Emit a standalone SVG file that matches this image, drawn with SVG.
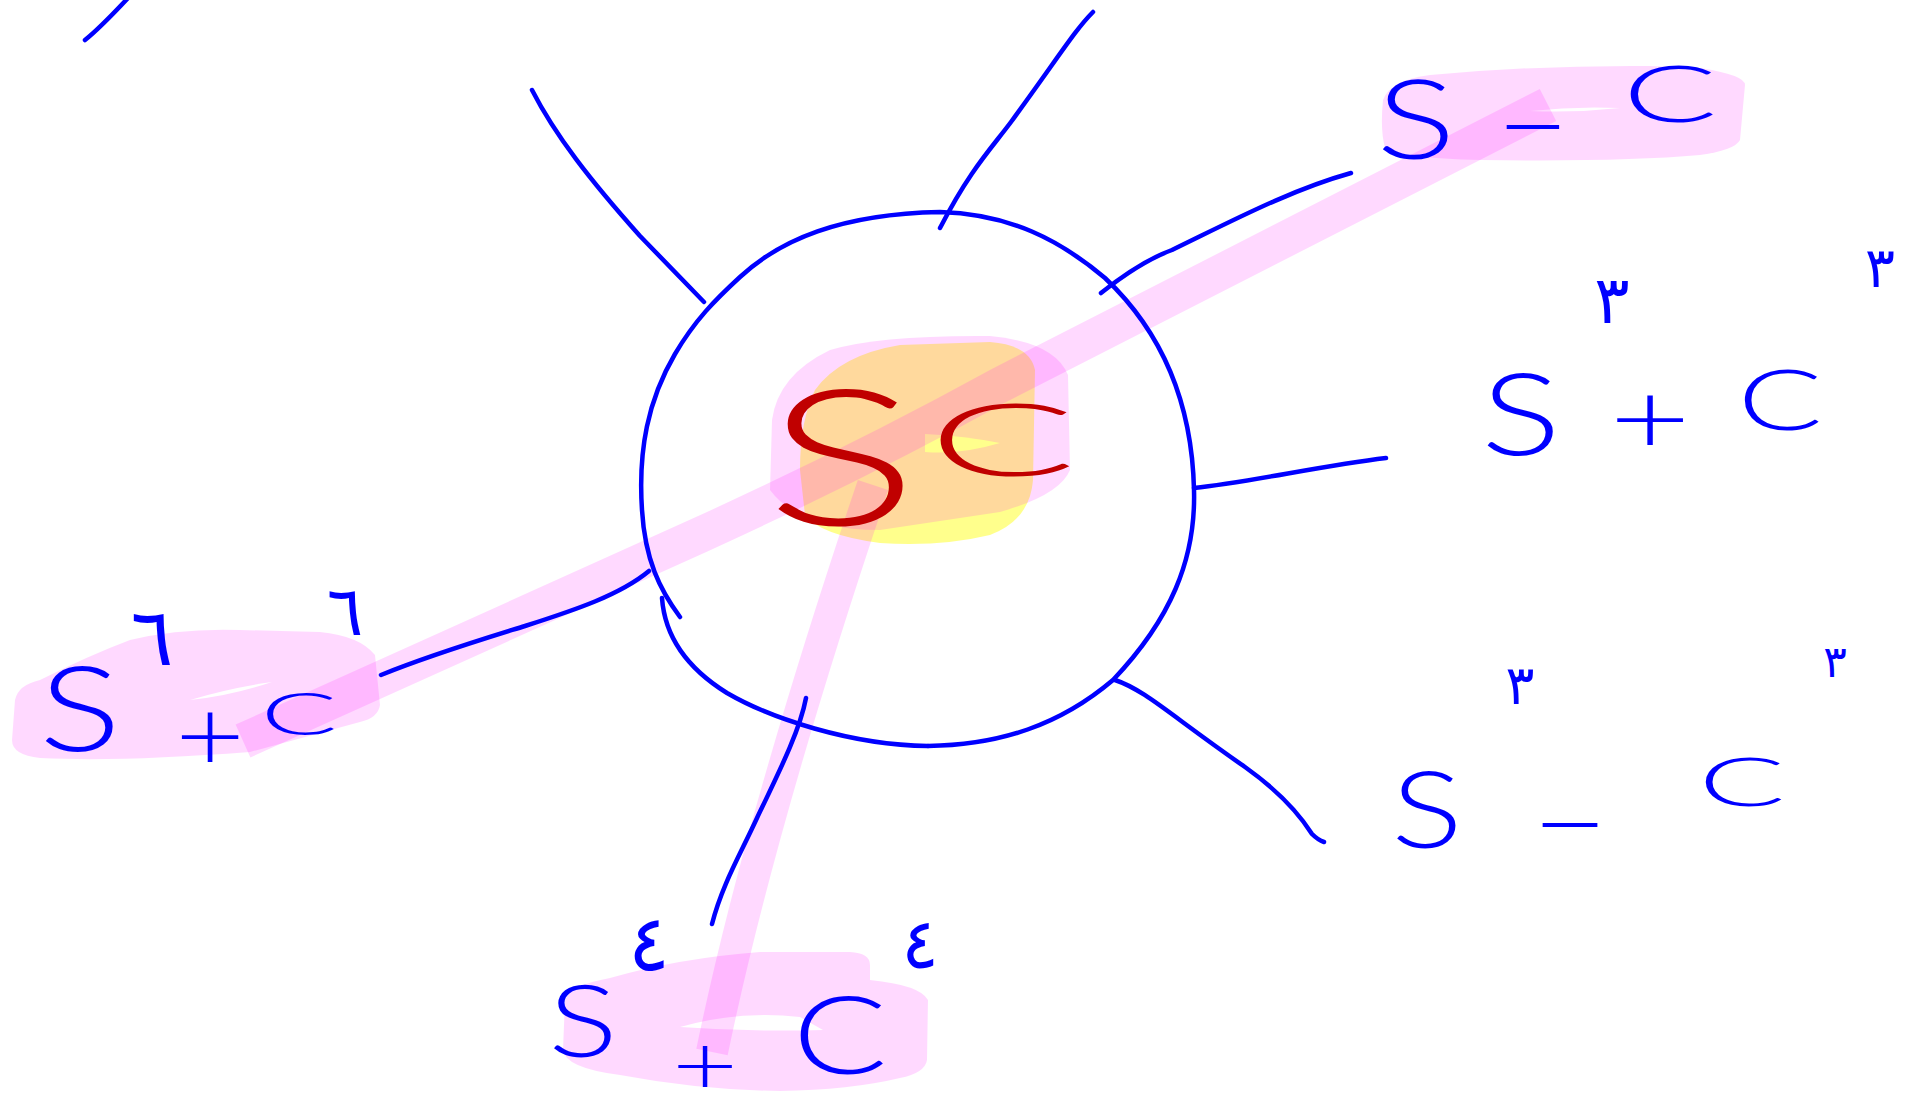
<svg xmlns="http://www.w3.org/2000/svg" width="1914" height="1097" viewBox="0 0 1914 1097">
<style>
.ink{fill:none;stroke:#0000ff;stroke-width:4.5;stroke-linecap:round;stroke-linejoin:round}
.hl{fill:#ff00ff;fill-opacity:0.15}
.band{fill:none;stroke:#ff00ff;stroke-opacity:0.15;stroke-linecap:butt;stroke-linejoin:round}
.yl{fill:#ffff00;fill-opacity:0.45}
.gap{fill:#ffffff}
.t{font-family:Lato,"Liberation Sans",sans-serif;font-weight:300;fill:#0000ff;text-anchor:middle}
.sup{font-family:"DejaVu Sans","Noto Sans",sans-serif;fill:#0000ff;text-anchor:middle}
.red{fill:#c00000}
</style>
<rect width="1914" height="1097" fill="#ffffff"/>
<g id="highlights">
<path class="hl" d="M1383,100 Q1390,80 1430,75 Q1540,65 1650,66 L1700,68 Q1745,75 1745,85 L1740,140 Q1735,150 1700,155 Q1620,162 1480,160 Q1400,158 1385,148 Q1380,130 1383,100 Z"/>
<path class="gap" d="M1530,111 Q1575,106 1620,108 Q1575,113 1530,111 Z"/>
<path class="hl" d="M15,700 Q18,685 40,680 Q90,655 130,640 Q180,628 240,630 L320,632 Q360,636 375,655 L380,705 Q378,718 360,722 L250,752 Q120,762 40,758 Q12,755 12,740 Z"/>
<path class="gap" d="M190,700 Q230,688 272,682 Q230,696 190,700 Z"/>
<path class="hl" d="M565,1000 Q570,985 610,978 Q680,958 760,952 L850,952 Q870,953 870,965 L870,980 Q920,985 928,1000 L927,1060 Q925,1073 900,1078 Q850,1090 780,1091 Q700,1090 620,1075 Q565,1068 563,1050 Z"/>
<path class="gap" d="M680,1027 Q740,1010 800,1017 L823,1030 Q750,1032 680,1027 Z"/>
<path class="yl" d="M800,470 Q800,420 815,390 Q840,355 900,345 L990,342 Q1030,345 1035,370 L1033,480 Q1030,520 990,535 Q940,547 880,543 Q820,535 805,515 Z"/>
<path class="hl" d="M770,490 L772,420 Q778,375 830,350 Q880,335 990,336 Q1055,342 1068,375 L1070,470 Q1060,495 1000,512 L880,530 Q800,530 770,490 Z"/>
<path d="M925,434 Q965,436 1000,443 Q960,455 925,452 Z" fill="#ffff8c"/>
<path class="band" stroke-width="36" d="M243,741 L700,535 Q860,462 1000,385 L1548,105"/>
<path class="band" stroke-width="32" d="M873,485 Q760,820 712,1052"/>
</g>
<g id="connectors">
<path class="ink" d="M85,40 Q100,28 128,-2"/>
<path class="ink" d="M532,90 C555,135 590,180 640,236 L704,302"/>
<path class="ink" d="M1093,12 C1075,30 1060,55 1011,122 C990,150 970,170 940,228"/>
<path class="ink" d="M1101,293 C1130,270 1150,258 1172,250 C1230,222 1290,190 1351,173"/>
<path class="ink" d="M1194,488 C1250,482 1320,466 1386,458"/>
<path class="ink" d="M1115,680 C1145,690 1170,715 1245,767 C1280,792 1300,815 1312,834 Q1318,840 1324,842"/>
<path class="ink" d="M381,675 C430,655 480,640 525,626 C575,610 620,595 649,571"/>
<path class="ink" d="M806,698 C800,730 780,770 757,818 C740,855 722,885 712,924"/>
</g>
<g id="hub">
<path class="ink" d="M680,617 C660,590 645,560 642,510 C638,450 648,400 675,354 C695,320 715,300 740,277 C780,240 840,214 940,212 C1010,214 1060,240 1105,278 C1160,330 1192,400 1194,490 C1196,560 1170,620 1113,680 C1060,725 1000,745 928,746"/>
<path class="ink" d="M662,598 C665,640 690,670 727,693 C770,718 850,745 928,746"/>
<text class="t red" font-size="190" transform="translate(842,525) scale(1.5,1)">S</text>
<text class="t red" font-size="100" transform="translate(1002,476) scale(2.2,1)">C</text>
</g>
<g id="node-s-minus-c">
<text class="t" font-size="110" transform="translate(1416,159) scale(1.35,1)">S</text>
<text class="t" font-size="110" transform="translate(1533,164) scale(1.15,1)">−</text>
<text class="t" font-size="78" transform="translate(1670,122) scale(1.8,1)">C</text>
</g>
<g id="node-s3-plus-c3">
<text class="t" font-size="115" transform="translate(1521,455) scale(1.3,1)">S</text>
<text class="sup" font-size="66" x="1612" y="323">٣</text>
<text class="t" font-size="100" transform="translate(1650,454) scale(1.4,1)">+</text>
<text class="t" font-size="84" transform="translate(1780,430) scale(1.5,1)">C</text>
<text class="sup" font-size="56" x="1880" y="287">٣</text>
</g>
<g id="node-s3-minus-c3">
<text class="t" font-size="107" transform="translate(1427,848) scale(1.25,1)">S</text>
<text class="sup" font-size="54" x="1520" y="704">٣</text>
<text class="t" font-size="110" transform="translate(1570,862) scale(1.2,1)">−</text>
<text class="t" font-size="68" transform="translate(1742,806) scale(1.9,1)">C</text>
<text class="sup" font-size="44" x="1835" y="677">٣</text>
</g>
<g id="node-s6-plus-c6">
<text class="t" font-size="118" transform="translate(80,751) scale(1.3,1)">S</text>
<text class="sup" font-size="80" x="152" y="665">٦</text>
<text class="t" font-size="100" transform="translate(210,771) scale(1.2,1)">+</text>
<text class="t" font-size="60" transform="translate(299,735) scale(1.9,1)">C</text>
<text class="sup" font-size="68" x="345" y="635">٦</text>
</g>
<g id="node-s4-plus-c4">
<text class="t" font-size="100" transform="translate(583,1057) scale(1.3,1)">S</text>
<text class="sup" font-size="78" x="649" y="970">٤</text>
<text class="t" font-size="76" transform="translate(705,1094) scale(1.5,1.1)">+</text>
<text class="t" font-size="108" transform="translate(840,1074) scale(1.3,1)">C</text>
<text class="sup" font-size="70" x="920" y="968">٤</text>
</g>
</svg>
